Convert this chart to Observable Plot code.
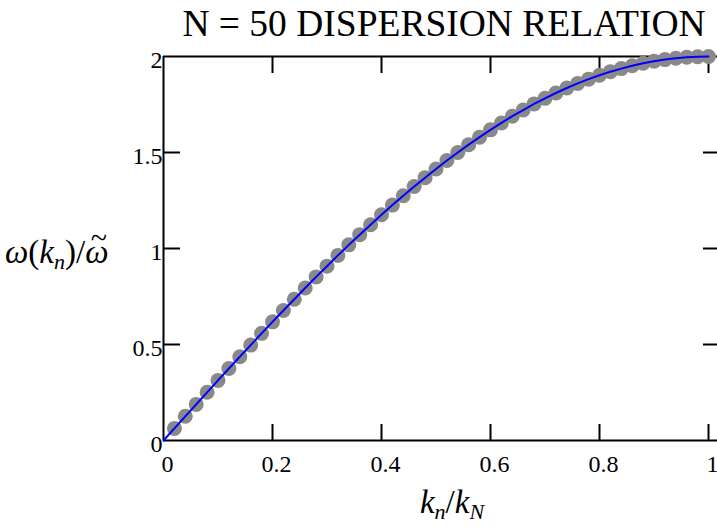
<!DOCTYPE html>
<html><head><meta charset="utf-8">
<script src="https://cdn.jsdelivr.net/npm/d3@7"></script>
<script src="https://cdn.jsdelivr.net/npm/@observablehq/plot@0.6"></script>
<style>body{margin:0;background:#fff}</style>
</head><body><div id="chart"></div>
<script>
const kValues = [0,0.02,0.04,0.06,0.08,0.10,0.12,0.14,0.16,0.18,0.20,0.22,0.24,0.26,0.28,0.30,0.32,0.34,0.36,0.38,0.40,0.42,0.44,0.46,0.48,0.50,0.52,0.54,0.56,0.58,0.60,0.62,0.64,0.66,0.68,0.70,0.72,0.74,0.76,0.78,0.80,0.82,0.84,0.86,0.88,0.90,0.92,0.94,0.96,0.98,1.00];
const omegaValues = [0,0.063,0.126,0.188,0.251,0.313,0.375,0.436,0.497,0.558,0.618,0.677,0.736,0.794,0.852,0.908,0.964,1.019,1.072,1.124,1.176,1.226,1.275,1.323,1.369,1.414,1.458,1.500,1.541,1.580,1.618,1.654,1.689,1.721,1.753,1.782,1.810,1.836,1.860,1.882,1.902,1.921,1.937,1.952,1.965,1.975,1.984,1.991,1.996,1.999,2.000];
const xTicks = [0,0.2,0.4,0.6,0.8,1];
const xTickLabels = ["0","0.2","0.4","0.6","0.8","1"];
const yTicks = [0,0.5,1,1.5,2];
const yTickLabels = ["0","0.5","1","1.5","2"];
const titleText = "N = 50 DISPERSION RELATION";

const data = kValues.map((k,i)=>({k, w: omegaValues[i]}));
const W = 717, H = 529, ML = 163, MT = 56, MB = 89, MR = 0;
const xMax = 554/545;
const pxX = xMax/(W-ML-MR), pxY = 2/(H-MT-MB);
const font = "Liberation Serif, Times New Roman, serif";

const plot = Plot.plot({
  width: W, height: H,
  marginLeft: ML, marginTop: MT, marginBottom: MB, marginRight: MR,
  x: {domain: [0, xMax], axis: null},
  y: {domain: [0, 2], axis: null},
  style: {fontFamily: font, background: "white", overflow: "visible"},
  marks: [
    Plot.ruleY([0, 2], {stroke: "black", strokeWidth: 2}),
    Plot.ruleX([0], {stroke: "black", strokeWidth: 2}),
    Plot.ruleX(xTicks.slice(1), {x: d=>d, y1: 0, y2: 16*pxY, stroke: "black", strokeWidth: 2}),
    Plot.ruleX(xTicks.slice(1), {x: d=>d, y1: 2, y2: 2-17*pxY, stroke: "black", strokeWidth: 2}),
    Plot.ruleY(yTicks.slice(1,4), {y: d=>d, x1: 0, x2: 17*pxX, stroke: "black", strokeWidth: 2}),
    Plot.ruleY(yTicks.slice(1,4), {y: d=>d, x1: xMax-14*pxX, x2: xMax, stroke: "black", strokeWidth: 2}),
    Plot.dot(data.slice(1), {x: "k", y: "w", r: 7.5, fill: "#898989", stroke: "none"}),
    Plot.line(data, {x: "k", y: "w", stroke: "#0000ff", strokeWidth: 2}),
    Plot.text(xTicks, {x: d=>d, y: ()=>0, text: (d,i)=>xTickLabels[i], dx: 4, dy: 24, fontSize: 24, fill: "black", textAnchor: "middle"}),
    Plot.text(yTicks, {x: ()=>0, y: d=>d, text: (d,i)=>yTickLabels[i], dx: -1, dy: 4, fontSize: 24, fill: "black", textAnchor: "end"})
  ]
});

document.getElementById("chart").appendChild(plot);
const svg = d3.select(plot);
svg.append("text").attr("x", 444).attr("y", 36).attr("text-anchor", "middle")
  .attr("font-family", font).attr("font-size", 37.5).attr("fill", "black").text(titleText);

const yl = svg.append("text").attr("x", 5).attr("y", 263).attr("text-anchor", "start")
  .attr("font-family", font).attr("font-size", 33).attr("fill", "black");
yl.append("tspan").attr("font-style", "italic").text("ω");
yl.append("tspan").text("(");
yl.append("tspan").attr("font-style", "italic").text("k");
yl.append("tspan").attr("font-style", "italic").attr("font-size", 22).attr("dy", 6).text("n");
yl.append("tspan").attr("dy", -6).text(")/");
yl.append("tspan").attr("font-style", "italic").text("ω");
const node = yl.node();
const omegaExt = node.getExtentOfChar(node.getNumberOfChars() - 1);
const tilde = yl.append("tspan").attr("font-size", 30).attr("dy", -15).text("~");
const tildeExt = node.getExtentOfChar(node.getNumberOfChars() - 1);
tilde.attr("dx", -(omegaExt.width / 2 + tildeExt.width / 2) + 2);

const xl = svg.append("text").attr("x", 452).attr("y", 513).attr("text-anchor", "middle")
  .attr("font-family", font).attr("font-size", 33).attr("fill", "black");
xl.append("tspan").attr("font-style", "italic").text("k");
xl.append("tspan").attr("font-style", "italic").attr("font-size", 22).attr("dy", 6).text("n");
xl.append("tspan").attr("dy", -6).text("/");
xl.append("tspan").attr("font-style", "italic").text("k");
xl.append("tspan").attr("font-style", "italic").attr("font-size", 22).attr("dy", 6).text("N");
</script>
</body></html>
